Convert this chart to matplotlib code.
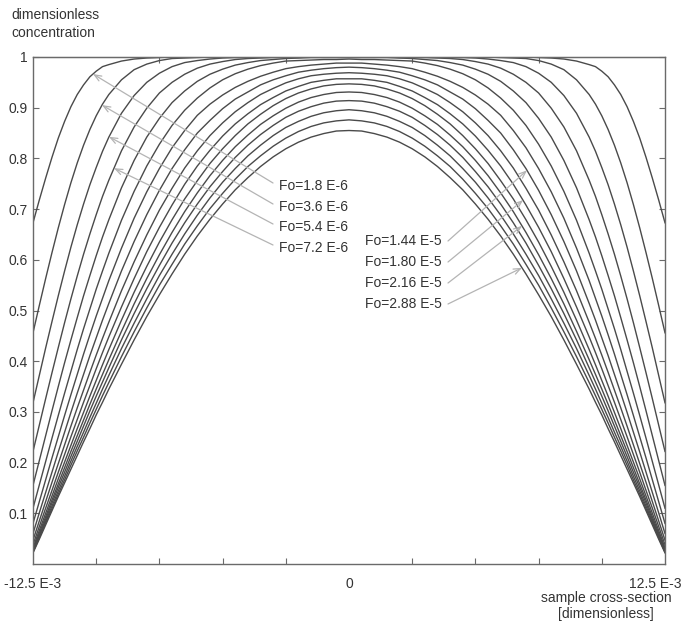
import numpy as np
import matplotlib
matplotlib.use("Agg")
import matplotlib.pyplot as plt
from matplotlib.transforms import ScaledTranslation

plt.rcParams['font.family'] = ['Liberation Sans', 'DejaVu Sans']

# half profile positions (sample cross-section, units of 1E-3), left edge to centre
x_half = [-12.5, -12.25, -12.0, -11.75, -11.5, -11.25, -11.0, -10.75, -10.5, -10.25, -10.0, -9.75,
          -9.5, -9.0, -8.5, -8.0, -7.5, -7.0, -6.5, -6.0, -5.5, -5.0, -4.5, -4.0, -3.5, -3.0,
          -2.5, -2.0, -1.5, -1.0, -0.5, 0.0]

# Fourier numbers of the 16 profiles
fo_values = [1.8e-6, 3.6e-6, 5.4e-6, 7.2e-6, 9.0e-6, 1.08e-5, 1.26e-5, 1.44e-5,
             1.62e-5, 1.80e-5, 1.98e-5, 2.16e-5, 2.34e-5, 2.52e-5, 2.70e-5, 2.88e-5]

# dimensionless concentration (symmetric profiles, read at x_half)
c01 = [0.673, 0.718, 0.761, 0.802, 0.840, 0.873, 0.902, 0.926, 0.945, 0.961, 0.972, 0.981,
       0.985, 0.992, 0.996, 0.998, 0.999, 1.0, 1.0, 1.0, 1.0, 1.0, 1.0, 1.0, 1.0, 1.0,
       1.0, 1.0, 1.0, 1.0, 1.0, 1.0]
c02 = [0.456, 0.510, 0.563, 0.614, 0.663, 0.709, 0.752, 0.791, 0.826, 0.857, 0.884, 0.907,
       0.926, 0.955, 0.975, 0.986, 0.993, 0.997, 0.998, 0.999, 1.0, 1.0, 1.0, 1.0, 1.0, 1.0,
       1.0, 1.0, 1.0, 1.0, 1.0, 1.0]
c03 = [0.318, 0.372, 0.426, 0.478, 0.529, 0.578, 0.625, 0.669, 0.710, 0.748, 0.782, 0.814,
       0.842, 0.889, 0.924, 0.950, 0.968, 0.981, 0.989, 0.993, 0.996, 0.998, 0.999, 0.999,
       1.0, 1.0, 1.0, 1.0, 1.0, 1.0, 1.0, 1.0]
c04 = [0.222, 0.274, 0.326, 0.377, 0.427, 0.476, 0.523, 0.568, 0.611, 0.651, 0.689, 0.725,
       0.757, 0.815, 0.862, 0.899, 0.929, 0.950, 0.966, 0.978, 0.986, 0.991, 0.995, 0.997,
       0.998, 0.999, 0.999, 0.999, 1.0, 1.0, 1.0, 1.0]
c05 = [0.155, 0.204, 0.253, 0.302, 0.350, 0.397, 0.442, 0.486, 0.529, 0.569, 0.608, 0.645,
       0.679, 0.742, 0.796, 0.842, 0.879, 0.910, 0.933, 0.952, 0.966, 0.976, 0.984, 0.989,
       0.993, 0.995, 0.997, 0.998, 0.999, 0.999, 0.999, 0.999]
c06 = [0.110, 0.156, 0.202, 0.248, 0.293, 0.337, 0.380, 0.423, 0.464, 0.503, 0.542, 0.578,
       0.613, 0.678, 0.735, 0.785, 0.828, 0.865, 0.895, 0.919, 0.939, 0.955, 0.967, 0.976,
       0.983, 0.988, 0.992, 0.993, 0.994, 0.995, 0.995, 0.996]
c07 = [0.080, 0.123, 0.166, 0.209, 0.251, 0.293, 0.334, 0.374, 0.414, 0.452, 0.489, 0.524,
       0.559, 0.623, 0.682, 0.734, 0.780, 0.821, 0.855, 0.885, 0.907, 0.925, 0.940, 0.952,
       0.962, 0.970, 0.977, 0.981, 0.984, 0.986, 0.988, 0.988]
c08 = [0.060, 0.101, 0.141, 0.181, 0.221, 0.260, 0.299, 0.337, 0.374, 0.411, 0.446, 0.481,
       0.514, 0.578, 0.636, 0.689, 0.737, 0.780, 0.817, 0.850, 0.875, 0.898, 0.917, 0.931,
       0.945, 0.955, 0.963, 0.970, 0.974, 0.977, 0.979, 0.980]
c09 = [0.047, 0.085, 0.123, 0.161, 0.198, 0.235, 0.272, 0.308, 0.343, 0.378, 0.412, 0.445,
       0.477, 0.539, 0.596, 0.649, 0.698, 0.741, 0.781, 0.815, 0.845, 0.870, 0.892, 0.910,
       0.926, 0.938, 0.949, 0.957, 0.963, 0.966, 0.968, 0.969]
c10 = [0.038, 0.074, 0.110, 0.145, 0.181, 0.216, 0.251, 0.285, 0.319, 0.352, 0.385, 0.417,
       0.448, 0.507, 0.563, 0.616, 0.664, 0.708, 0.749, 0.785, 0.816, 0.844, 0.868, 0.888,
       0.906, 0.920, 0.933, 0.942, 0.950, 0.954, 0.957, 0.957]
c11 = [0.032, 0.066, 0.100, 0.134, 0.168, 0.201, 0.234, 0.267, 0.299, 0.331, 0.362, 0.393,
       0.423, 0.481, 0.536, 0.587, 0.635, 0.679, 0.720, 0.756, 0.790, 0.819, 0.845, 0.868,
       0.887, 0.904, 0.918, 0.929, 0.937, 0.943, 0.946, 0.947]
c12 = [0.028, 0.061, 0.093, 0.126, 0.158, 0.190, 0.222, 0.253, 0.284, 0.315, 0.345, 0.374,
       0.403, 0.459, 0.513, 0.563, 0.610, 0.654, 0.695, 0.732, 0.766, 0.796, 0.823, 0.846,
       0.867, 0.884, 0.899, 0.911, 0.920, 0.926, 0.930, 0.931]
c13 = [0.026, 0.057, 0.088, 0.120, 0.151, 0.181, 0.212, 0.242, 0.272, 0.302, 0.331, 0.359,
       0.387, 0.442, 0.494, 0.543, 0.589, 0.633, 0.673, 0.710, 0.744, 0.774, 0.802, 0.826,
       0.847, 0.865, 0.881, 0.893, 0.902, 0.909, 0.913, 0.914]
c14 = [0.024, 0.054, 0.084, 0.114, 0.144, 0.173, 0.203, 0.232, 0.260, 0.289, 0.317, 0.345,
       0.372, 0.425, 0.475, 0.523, 0.569, 0.611, 0.651, 0.688, 0.722, 0.753, 0.780, 0.805,
       0.826, 0.845, 0.861, 0.873, 0.883, 0.890, 0.894, 0.896]
c15 = [0.023, 0.052, 0.081, 0.109, 0.138, 0.166, 0.195, 0.223, 0.250, 0.278, 0.305, 0.332,
       0.358, 0.409, 0.458, 0.505, 0.550, 0.591, 0.631, 0.667, 0.701, 0.731, 0.759, 0.784,
       0.805, 0.824, 0.840, 0.853, 0.863, 0.870, 0.874, 0.876]
c16 = [0.022, 0.049, 0.077, 0.105, 0.133, 0.160, 0.187, 0.214, 0.241, 0.267, 0.294, 0.319,
       0.345, 0.394, 0.442, 0.488, 0.531, 0.572, 0.611, 0.647, 0.680, 0.710, 0.738, 0.762,
       0.784, 0.803, 0.819, 0.832, 0.842, 0.849, 0.854, 0.855]

profiles = [c01, c02, c03, c04, c05, c06, c07, c08, c09, c10, c11, c12, c13, c14, c15, c16]

y_ticks = [0.1, 0.2, 0.3, 0.4, 0.5, 0.6, 0.7, 0.8, 0.9, 1.0]
y_tick_labels = ['0.1', '0.2', '0.3', '0.4', '0.5', '0.6', '0.7', '0.8', '0.9', '1']
x_ticks = [-12.5e-3, 0.0, 12.5e-3]
x_tick_labels = ['-12.5 E-3', '0', '12.5 E-3']

left_labels = ['Fo=1.8 E-6', 'Fo=3.6 E-6', 'Fo=5.4 E-6', 'Fo=7.2 E-6']
left_idx = [0, 1, 2, 3]
right_labels = ['Fo=1.44 E-5', 'Fo=1.80 E-5', 'Fo=2.16 E-5', 'Fo=2.88 E-5']
right_idx = [7, 9, 11, 15]

# ---------------------------------------------------------------------------
xh = np.array(x_half) * 1e-3
xs = np.concatenate([xh, -xh[::-1][1:]])

def full(c):
    c = np.array(c)
    return np.concatenate([c, c[::-1][1:]])

W, H = 684, 622
fig = plt.figure(figsize=(W / 100, H / 100), dpi=100)
ax = fig.add_axes([33 / W, 58 / H, 632 / W, 507 / H])
line_col = '#4a4a4a'
txt_col = '#333333'
ax_col = '#6a6a6a'
for c in profiles:
    ax.plot(xs, full(c), color=line_col, lw=1.0)

ax.set_xlim(-12.5e-3, 12.5e-3)
ax.set_ylim(0, 1)
for s in ax.spines.values():
    s.set_color(ax_col)
    s.set_linewidth(1.0)
ax.set_yticks(y_ticks, y_tick_labels)
ax.set_xticks(x_ticks, x_tick_labels)
ax.set_xticks(np.arange(-10e-3, 10.1e-3, 2.5e-3), minor=True)
ax.tick_params(axis='y', direction='in', length=4.5, width=0.8, color=ax_col, right=True,
               labelsize=10, labelcolor=txt_col, pad=4)
ax.tick_params(axis='x', which='major', length=0, labelsize=10, labelcolor=txt_col, pad=9)
ax.tick_params(axis='x', which='minor', direction='in', length=4, width=0.8, color=ax_col)
axt = ax.secondary_xaxis('top')
axt.set_xticks([-7.5e-3, -2.5e-3, 2.5e-3, 7.5e-3], ['', '', '', ''])
axt.tick_params(direction='in', length=4, width=0.8, color=ax_col)
axt.spines['top'].set_color(ax_col)
lbl = ax.get_xticklabels()[-1]
lbl.set_transform(lbl.get_transform() + ScaledTranslation(-9.5 / 100, 0, fig.dpi_scale_trans))

fig.text(11 / W, 1 - 15 / H, 'dimensionless', fontsize=10, color=txt_col, va='center')
fig.text(11 / W, 1 - 33 / H, 'concentration', fontsize=10, color=txt_col, va='center')
fig.text(606 / W, 1 - 598 / H, 'sample cross-section', fontsize=10, color=txt_col, va='center', ha='center')
fig.text(606 / W, 1 - 614 / H, '[dimensionless]', fontsize=10, color=txt_col, va='center', ha='center')

# annotation placement in axes fraction
def fx(px):
    return (px - 33) / 632

def fy(py):
    return (564 - py) / 507

left_tip_px = [93, 102, 109, 114]
left_y = [186, 207, 227, 248]
right_tip_px = [527, 523, 522, 522]
right_y = [241, 262, 283, 304]

acol = '#b4b4b4'
aprops = dict(arrowstyle='->,head_length=0.5,head_width=0.2', color=acol, lw=0.9, shrinkA=0, shrinkB=0)
for lab, i, tp, ly in zip(left_labels, left_idx, left_tip_px, left_y):
    tx = -12.5e-3 + fx(tp) * 25e-3
    ty = np.interp(tx, xs, full(profiles[i]))
    ax.annotate('', xy=(tx, ty), xycoords='data', xytext=(fx(273), fy(ly - 3)),
                textcoords='axes fraction', arrowprops=aprops)
    ax.text(fx(279), fy(ly), lab, transform=ax.transAxes, fontsize=10, color=txt_col,
            va='center', ha='left')
for lab, i, tp, ly in zip(right_labels, right_idx, right_tip_px, right_y):
    tx = -12.5e-3 + fx(tp) * 25e-3
    ty = np.interp(tx, xs, full(profiles[i]))
    ax.annotate('', xy=(tx, ty), xycoords='data', xytext=(fx(448), fy(ly)),
                textcoords='axes fraction', arrowprops=aprops)
    ax.text(fx(365), fy(ly), lab, transform=ax.transAxes, fontsize=10, color=txt_col,
            va='center', ha='left')

fig.savefig('out.png', dpi=100)
